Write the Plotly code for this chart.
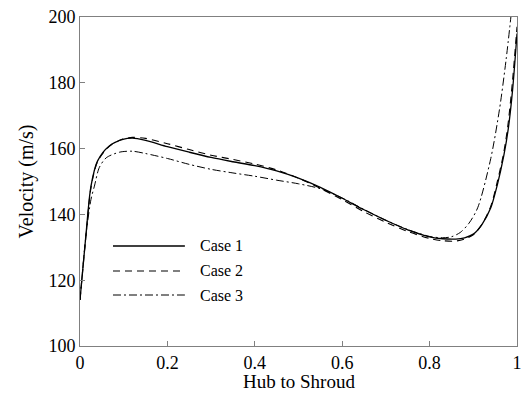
import plotly.graph_objects as go

# ---- data ----
x_12 = [0, 0.014, 0.025, 0.04, 0.067, 0.098, 0.12, 0.15, 0.2, 0.25, 0.3, 0.35, 0.4, 0.45, 0.5,
        0.55, 0.6, 0.65, 0.7, 0.75, 0.8, 0.83, 0.86, 0.88, 0.9, 0.92, 0.94, 0.955, 0.97, 0.98, 0.99, 1.0]
case1 = [114, 134.4, 148.5, 156.2, 160.8, 162.8, 163.2, 162.5, 160.6, 158.9, 157.3, 156.0, 154.8, 153.2, 151.0,
         148.2, 144.9, 141.4, 138.2, 135.3, 133.2, 132.6, 132.5, 132.9, 134.0, 137.0, 142.0, 149.0, 158.0, 166.0, 178.0, 195.0]
case2 = [114, 134.0, 148.0, 156.0, 160.7, 162.9, 163.4, 163.1, 161.5, 159.7, 158.0, 156.7, 155.3, 153.5, 151.0,
         147.9, 144.5, 140.8, 137.6, 134.8, 132.7, 132.0, 131.9, 132.5, 133.8, 137.0, 142.5, 150.0, 159.0, 168.0, 181.0, 197.0]
x_3 = [0, 0.014, 0.025, 0.033, 0.044, 0.06, 0.09, 0.12, 0.15, 0.2, 0.25, 0.3, 0.35, 0.4, 0.45, 0.5,
       0.55, 0.6, 0.65, 0.7, 0.75, 0.8, 0.83, 0.85, 0.87, 0.89, 0.91, 0.94, 0.96, 0.975, 0.986]
case3 = [114, 134.0, 144.5, 148.6, 154.2, 157.2, 158.9, 159.2, 158.5, 157.0, 155.2, 153.7, 152.6, 151.6, 150.4, 149.3,
         147.8, 145.0, 141.5, 138.2, 135.4, 133.3, 132.9, 133.2, 134.5, 137.3, 142.0, 157.0, 172.0, 187.0, 200.0]

names = ["Case 1", "Case 2", "Case 3"]
x_ticks = [0, 0.2, 0.4, 0.6, 0.8, 1]
x_ticktext = ["0", "0.2", "0.4", "0.6", "0.8", "1"]
y_ticks = [100, 120, 140, 160, 180, 200]
y_ticktext = ["100", "120", "140", "160", "180", "200"]
x_title = "Hub to Shroud"
y_title = "Velocity (m/s)"

FONT = "Liberation Serif, Times New Roman, serif"
dashes = ["solid", "7px,5px", "8px,3px,2px,3px"]
widths = [1.3, 1.1, 1.0]

fig = go.Figure()
for xs, ys, nm, d, w in [(x_12, case1, names[0], dashes[0], widths[0]),
                         (x_12, case2, names[1], dashes[1], widths[1]),
                         (x_3, case3, names[2], dashes[2], widths[2])]:
    fig.add_trace(go.Scatter(x=xs, y=ys, name=nm, mode="lines",
                             line=dict(color="black", width=w, dash=d, shape="spline", smoothing=0.8),
                             showlegend=False, cliponaxis=True))

# manual legend (long line samples as in the reference)
leg_y = [0.304, 0.228, 0.155]
for nm, d, w, yy in zip(names, dashes, widths, leg_y):
    fig.add_shape(type="line", xref="paper", yref="paper", x0=0.0755, x1=0.240, y0=yy, y1=yy,
                  line=dict(color="black", width=w, dash=d))
    fig.add_annotation(xref="paper", yref="paper", x=0.27, y=yy, text=nm, showarrow=False,
                       xanchor="left", yanchor="middle", font=dict(family=FONT, size=16, color="black"))

# x-axis title placed explicitly, kept inside the page
fig.add_annotation(xref="paper", yref="paper", x=0.5, y=-0.1429, text=x_title, showarrow=False,
                   xanchor="center", yanchor="bottom", borderpad=0,
                   font=dict(family=FONT, size=19, color="black"))

axis_common = dict(showline=True, linecolor="#808080", linewidth=1, mirror=True,
                   ticks="inside", ticklen=5, tickcolor="#808080", showgrid=False, zeroline=False,
                   automargin=False, tickfont=dict(family=FONT, size=18, color="black"))

fig.update_xaxes(range=[0, 1], tickmode="array", tickvals=x_ticks, ticktext=x_ticktext,
                 ticklabelstandoff=0, **axis_common)
fig.update_yaxes(range=[100, 200], tickmode="array", tickvals=y_ticks, ticktext=y_ticktext,
                 title=dict(text=y_title, font=dict(family=FONT, size=20, color="black"), standoff=9),
                 **axis_common)

fig.update_layout(width=526, height=394, margin=dict(l=80, r=9, t=17, b=48),
                  font=dict(family=FONT, size=19, color="black"),
                  paper_bgcolor="white", plot_bgcolor="white", showlegend=False)

fig.write_html("out.html")
